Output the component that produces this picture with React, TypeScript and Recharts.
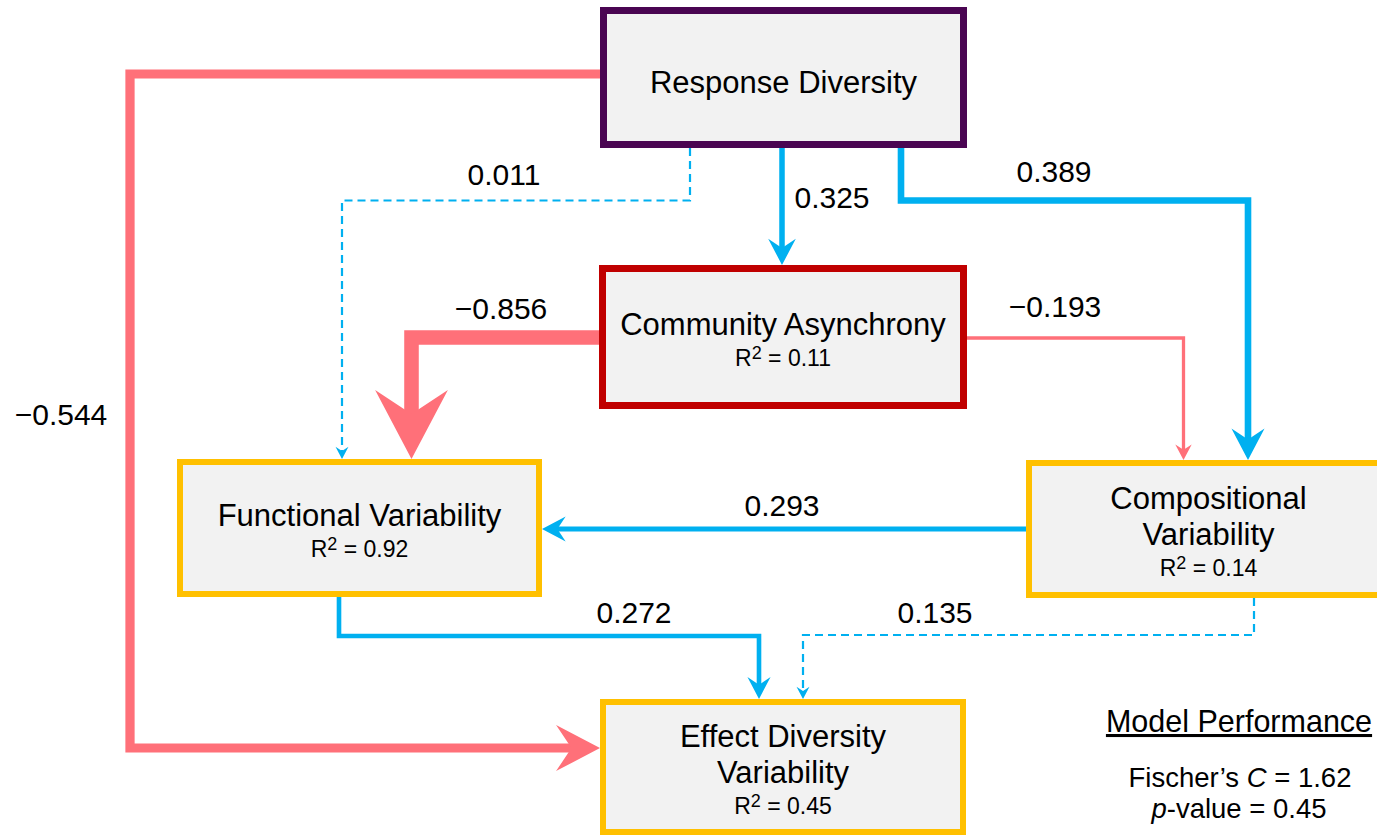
import React from "react";
import { ComposedChart, XAxis, YAxis, Line, Scatter, ReferenceArea } from "recharts";

const W = 1377;
const H = 836;
const FONT = "'Liberation Sans', Arial, Helvetica, sans-serif";
const BLUE = "#00B0F0";
const PINK = "#FF7079";

// ---- model values ----
const NODE_NAMES = [
  ["Response Diversity"],
  ["Community Asynchrony"],
  ["Functional Variability"],
  ["Compositional", "Variability"],
  ["Effect Diversity", "Variability"],
];
const NODE_R2: (number | null)[] = [null, 0.11, 0.92, 0.14, 0.45];
const NODE_BORDER = ["#4A0552", "#C00000", "#FFC000", "#FFC000", "#FFC000"];

// path coefficients (from -> to) and whether they are significant
const PATH_FROM = [0, 0, 0, 0, 1, 1, 3, 2, 3];
const PATH_TO = [4, 2, 1, 3, 2, 3, 2, 4, 4];
const PATH_COEF = [-0.544, 0.011, 0.325, 0.389, -0.856, -0.193, 0.293, 0.272, 0.135];
const PATH_SIG = [true, false, true, true, true, true, true, true, false];

const FISCHER_C = 1.62;
const P_VALUE = 0.45;

// ---- layout (diagram units) ----
const BOX_X1 = [600, 599, 177, 1026, 600];
const BOX_X2 = [967, 967, 542, 1391, 966];
const BOX_Y1 = [7, 265, 459, 460, 699];
const BOX_Y2 = [148, 409, 597, 598, 835];
const BOX_STROKE = [7, 7, 6, 6, 6];

// elbow routes, one per path, last point = arrow tip
const ROUTES = [
  [[600, 74], [130, 74], [130, 748], [600, 748]],
  [[690, 148], [690, 200.5], [342, 200.5], [342, 459]],
  [[782, 148], [782, 265]],
  [[901, 148], [901, 200.5], [1248, 200.5], [1248, 460]],
  [[599, 337.5], [411.5, 337.5], [411.5, 459]],
  [[967, 338], [1183.5, 338], [1183.5, 460]],
  [[1026, 529], [542, 529]],
  [[339, 597], [339, 636], [759, 636], [759, 699]],
  [[1254, 598], [1254, 635], [803, 635], [803, 699]],
];
const COEF_LABEL_X = [61, 504, 832, 1054, 501, 1055, 782, 634, 935];
const COEF_LABEL_Y = [425, 185, 208, 182, 319, 317, 516, 623, 623];

const fmt = (v: number) => (v < 0 ? "\u2212" : "") + Math.abs(v).toFixed(3);

function pathStyle(i: number) {
  const c = PATH_COEF[i];
  const sw = PATH_SIG[i] ? Math.abs(c) * 17 : 2.2;
  const headW = Math.max(sw * 5, 13);
  return {
    color: c < 0 ? PINK : BLUE,
    sw,
    headW,
    headL: headW * 0.95,
    dashed: !PATH_SIG[i],
  };
}

function NodeLabel(props: any) {
  const { viewBox, node } = props;
  if (!viewBox) return null;
  const cx = viewBox.x + viewBox.width / 2;
  const cy = viewBox.y + viewBox.height / 2;
  const names = NODE_NAMES[node];
  const r2 = NODE_R2[node];
  const k = names.length + (r2 != null ? 1 : 0);
  let base = cy + 15.5 - 18 * (k - 1);
  const out: React.ReactNode[] = [];
  names.forEach((n, j) => {
    out.push(
      <text key={"n" + j} x={cx} y={base} textAnchor="middle" fontSize={31} fontFamily={FONT} fill="#000">
        {n}
      </text>
    );
    base += 36;
  });
  if (r2 != null) {
    base -= 5;
    out.push(
      <text key="r2" x={cx} y={base} textAnchor="middle" fontSize={23} fontFamily={FONT} fill="#000">
        R<tspan fontSize={18} dy={-7}>2</tspan>
        <tspan dy={7}>{" = " + r2.toFixed(2)}</tspan>
      </text>
    );
  }
  return <g>{out}</g>;
}

const labelData = [
  ...PATH_COEF.map((c, i) => ({ x: COEF_LABEL_X[i], y: COEF_LABEL_Y[i], kind: "coef", text: fmt(c) })),
  { x: 1239, y: 732, kind: "title", text: "Model Performance" },
  { x: 1240, y: 787, kind: "fischer", text: FISCHER_C.toFixed(2) },
  { x: 1239, y: 818, kind: "pvalue", text: P_VALUE.toFixed(2) },
];

function renderLabel(props: any) {
  const { cx, cy, payload } = props;
  if (cx == null || cy == null) return <g />;
  const common = { x: cx, y: cy, textAnchor: "middle" as const, fontFamily: FONT, fill: "#000" };
  if (payload.kind === "coef") {
    return <text {...common} fontSize={30}>{payload.text}</text>;
  }
  if (payload.kind === "title") {
    return (
      <text {...common} fontSize={30.5} style={{ textDecoration: "underline" }}>
        {payload.text}
      </text>
    );
  }
  if (payload.kind === "fischer") {
    return (
      <text {...common} fontSize={27.5}>
        {"Fischer\u2019s "}
        <tspan fontStyle="italic">C</tspan>
        {" = " + payload.text}
      </text>
    );
  }
  return (
    <text {...common} fontSize={27.5}>
      <tspan fontStyle="italic">p</tspan>
      {"-value = " + payload.text}
    </text>
  );
}

function buildPath(i: number) {
  const st = pathStyle(i);
  const r = ROUTES[i];
  const n = r.length;
  const [lx, ly] = r[n - 1];
  const [px, py] = r[n - 2];
  const len = Math.hypot(lx - px, ly - py);
  const ux = (lx - px) / len;
  const uy = (ly - py) / len;
  const back = st.headL * 0.5;
  const pts = r.map(([x, y], j) =>
    j === n - 1 ? { x: x - ux * back, y: y - uy * back } : { x, y }
  );
  const head = (props: any) => {
    const { cx, cy, index } = props;
    if (index !== n - 1 || cx == null) return <g key={index} />;
    const tx = cx + ux * back;
    const ty = cy + uy * back;
    const nx = -uy;
    const ny = ux;
    const bx = tx - ux * st.headL;
    const by = ty - uy * st.headL;
    const mx = tx - ux * st.headL * 0.65;
    const my = ty - uy * st.headL * 0.65;
    const hw = st.headW / 2;
    const poly = [
      [tx, ty],
      [bx + nx * hw, by + ny * hw],
      [mx, my],
      [bx - nx * hw, by - ny * hw],
    ]
      .map((p) => p.join(","))
      .join(" ");
    return <polygon key={index} points={poly} fill={st.color} />;
  };
  return { st, pts, head };
}

export default function App() {
  return (
    <div style={{ position: "absolute", left: 0, top: 0, background: "#fff" }}>
      <ComposedChart width={W} height={H} margin={{ top: 0, right: 0, bottom: 0, left: 0 }}>
        <XAxis type="number" dataKey="x" domain={[0, W]} allowDataOverflow hide />
        <YAxis type="number" dataKey="y" domain={[0, H]} allowDataOverflow reversed hide />
        {PATH_COEF.map((c, i) => {
          const { st, pts, head } = buildPath(i);
          return (
            <Line
              key={"p" + i}
              name={`${PATH_FROM[i]}->${PATH_TO[i]}`}
              data={pts}
              dataKey="y"
              type="linear"
              stroke={st.color}
              strokeWidth={st.sw}
              strokeDasharray={st.dashed ? "8 5" : undefined}
              strokeLinejoin="miter"
              strokeLinecap="butt"
              dot={head}
              activeDot={false}
              isAnimationActive={false}
            />
          );
        })}
        {NODE_NAMES.map((_, i) => {
          const h = BOX_STROKE[i] / 2;
          return (
            <ReferenceArea
              key={"b" + i}
              x1={BOX_X1[i] + h}
              x2={BOX_X2[i] - h}
              y1={BOX_Y1[i] + h}
              y2={BOX_Y2[i] - h}
              fill="#F2F2F2"
              fillOpacity={1}
              stroke={NODE_BORDER[i]}
              strokeWidth={BOX_STROKE[i]}
              ifOverflow="visible"
              label={<NodeLabel node={i} />}
            />
          );
        })}
        <Scatter data={labelData} shape={renderLabel} isAnimationActive={false} />
      </ComposedChart>
    </div>
  );
}
